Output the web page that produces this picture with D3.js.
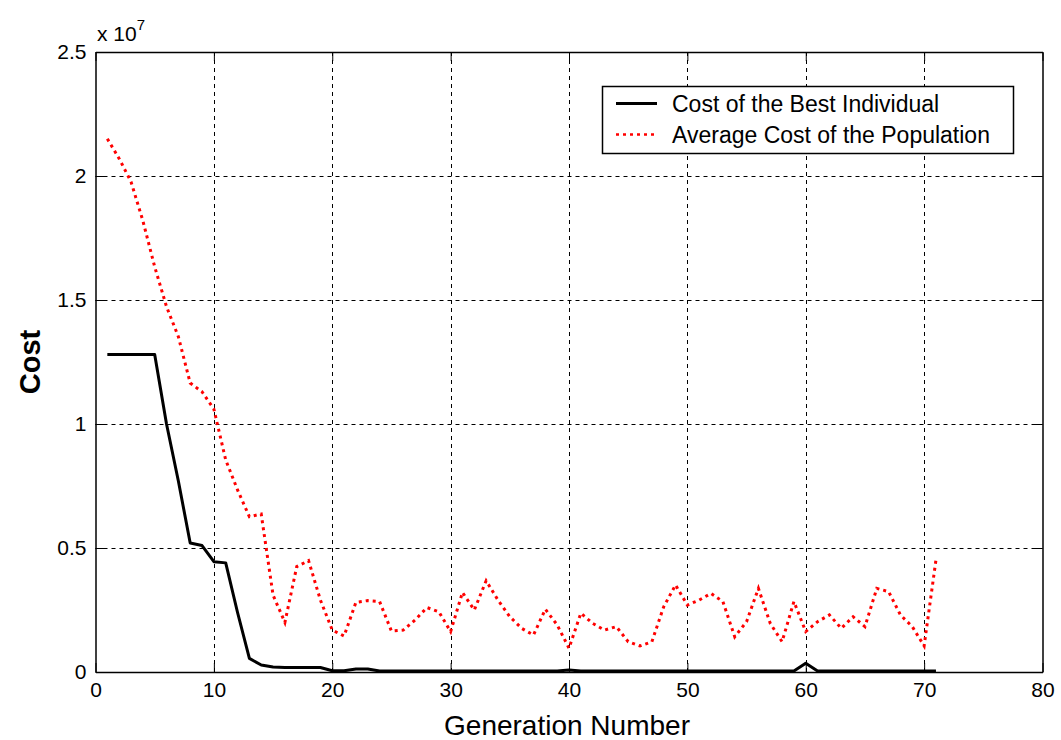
<!DOCTYPE html>
<html>
<head>
<meta charset="utf-8">
<script src="https://cdn.jsdelivr.net/npm/d3@7"></script>
<style>
  body { margin: 0; background: #fff; }
  svg { display: block; font-family: 'Liberation Sans', Arial, sans-serif; }
</style>
</head>
<body>
<svg width="1061" height="740"></svg>
<script>
// values in units of 1e7, one per generation
const generations = d3.range(1, 72)
const bestCost = [
  1.28, 1.28, 1.28, 1.28, 1.28, 1.0, 0.77, 0.52, 0.51, 0.445,
  0.44, 0.24, 0.055, 0.028, 0.02, 0.018, 0.018, 0.018, 0.018, 0.005,
  0.005, 0.012, 0.012, 0.004, 0.004, 0.004, 0.004, 0.004, 0.004, 0.004,
  0.004, 0.004, 0.004, 0.004, 0.004, 0.004, 0.004, 0.004, 0.004, 0.008,
  0.004, 0.004, 0.004, 0.004, 0.004, 0.004, 0.004, 0.004, 0.004, 0.004,
  0.004, 0.004, 0.004, 0.004, 0.004, 0.004, 0.004, 0.004, 0.004, 0.035,
  0.004, 0.004, 0.004, 0.004, 0.004, 0.004, 0.004, 0.004, 0.004, 0.004,
  0.004
]
const avgCost = [
  2.15, 2.07, 1.977, 1.82, 1.634, 1.473, 1.352, 1.165, 1.13, 1.06,
  0.855, 0.734, 0.626, 0.637, 0.31, 0.2, 0.425, 0.449, 0.29, 0.169,
  0.145, 0.281, 0.288, 0.284, 0.165, 0.169, 0.21, 0.26, 0.243, 0.163,
  0.321, 0.25, 0.368, 0.29, 0.223, 0.176, 0.149, 0.253, 0.19, 0.096,
  0.237, 0.196, 0.169, 0.183, 0.122, 0.105, 0.122, 0.263, 0.351, 0.27,
  0.29, 0.317, 0.284, 0.142, 0.203, 0.337, 0.196, 0.122, 0.284, 0.163,
  0.203, 0.23, 0.176, 0.223, 0.183, 0.337, 0.324, 0.23, 0.183, 0.105,
  0.452
]
const xTicks = [0, 10, 20, 30, 40, 50, 60, 70, 80]
const yTicks = [0, 0.5, 1, 1.5, 2, 2.5]
const seriesNames = ['Cost of the Best Individual', 'Average Cost of the Population']

const padL = 95.5, padR = 1042.5, padT = 52, padB = 672
const svg = d3.select('svg')

const x = d3.scaleLinear().domain([0, 80]).range([padL, padR])
const y = d3.scaleLinear().domain([0, 2.5e7]).range([padB, padT])

// grid
const grid = svg.append('g')
  .attr('stroke', '#000')
  .attr('stroke-width', 1)
  .attr('stroke-dasharray', '4,4')
grid.selectAll('.gx')
  .data(xTicks.slice(1, -1))
  .enter().append('line')
  .attr('x1', d => Math.round(x(d)) + 0.5).attr('x2', d => Math.round(x(d)) + 0.5)
  .attr('y1', padT).attr('y2', padB)
grid.selectAll('.gy')
  .data(yTicks.slice(1, -1))
  .enter().append('line')
  .attr('y1', d => Math.round(y(d * 1e7)) + 0.5).attr('y2', d => Math.round(y(d * 1e7)) + 0.5)
  .attr('x1', padL).attr('x2', padR)

// axes, ticks pointing inward like matlab
const yAxis = d3.axisLeft(y)
  .tickValues(yTicks.map(d => d * 1e7))
  .tickFormat(d => d3.format('')(d / 1e7))
  .tickSizeInner(-9).tickSizeOuter(0).tickPadding(9)
const yAxisR = d3.axisRight(y)
  .tickValues(yTicks.map(d => d * 1e7))
  .tickFormat('').tickSizeInner(-9).tickSizeOuter(0)
const xAxis = d3.axisBottom(x)
  .tickValues(xTicks).tickFormat(d3.format(''))
  .tickSizeInner(-9).tickSizeOuter(0).tickPadding(10)
const xAxisT = d3.axisTop(x)
  .tickValues(xTicks).tickFormat('').tickSizeInner(-9).tickSizeOuter(0)

svg.append('g').attr('transform', `translate(${padL},0)`).call(yAxis)
svg.append('g').attr('transform', `translate(${padR},0)`).call(yAxisR)
svg.append('g').attr('transform', `translate(0,${padB})`).call(xAxis)
svg.append('g').attr('transform', `translate(0,${padT})`).call(xAxisT)

svg.selectAll('.tick text')
  .attr('font-size', 21)
  .attr('font-family', "'Liberation Sans', Arial, sans-serif")
  .attr('fill', '#000')
svg.selectAll('.domain').attr('stroke', '#000').attr('stroke-width', 1.5)
svg.selectAll('.tick line').attr('stroke', '#000')

// lines
const line = d3.line()
  .x((d, i) => x(generations[i]))
  .y(d => y(d * 1e7))

svg.append('path')
  .datum(avgCost)
  .attr('d', line)
  .attr('fill', 'none')
  .attr('stroke', '#ff0000')
  .attr('stroke-width', 3)
  .attr('stroke-dasharray', '3,4')

svg.append('path')
  .datum(bestCost)
  .attr('d', line)
  .attr('fill', 'none')
  .attr('stroke', '#000')
  .attr('stroke-width', 3)
  .attr('stroke-linejoin', 'round')

// labels
svg.append('text')
  .attr('x', 97).attr('y', 41)
  .attr('font-size', 21)
  .text('x 10')
  .append('tspan')
  .attr('dy', -11).attr('font-size', 15)
  .text('7')

svg.append('text')
  .attr('x', 567).attr('y', 735)
  .attr('text-anchor', 'middle')
  .attr('font-size', 28)
  .text('Generation Number')

svg.append('text')
  .attr('transform', 'translate(40,362) rotate(-90)')
  .attr('text-anchor', 'middle')
  .attr('font-size', 29)
  .attr('font-weight', 'bold')
  .text('Cost')

// legend
const legend = svg.append('g')
legend.append('rect')
  .attr('x', 602.5).attr('y', 86.5)
  .attr('width', 411).attr('height', 67)
  .attr('fill', '#fff').attr('stroke', '#000').attr('stroke-width', 1.5)
const rows = legend.selectAll('.row')
  .data(seriesNames)
  .enter().append('g')
  .attr('transform', (d, i) => `translate(0,${103.5 + i * 31})`)
rows.append('line')
  .attr('x1', 616).attr('x2', 657)
  .attr('stroke', (d, i) => i === 0 ? '#000' : '#ff0000')
  .attr('stroke-width', (d, i) => i === 0 ? 3 : 2.5)
  .attr('stroke-dasharray', (d, i) => i === 0 ? null : '3,4')
rows.append('text')
  .attr('x', 672).attr('y', 8)
  .attr('font-size', 23)
  .text(d => d)
</script>
</body>
</html>
